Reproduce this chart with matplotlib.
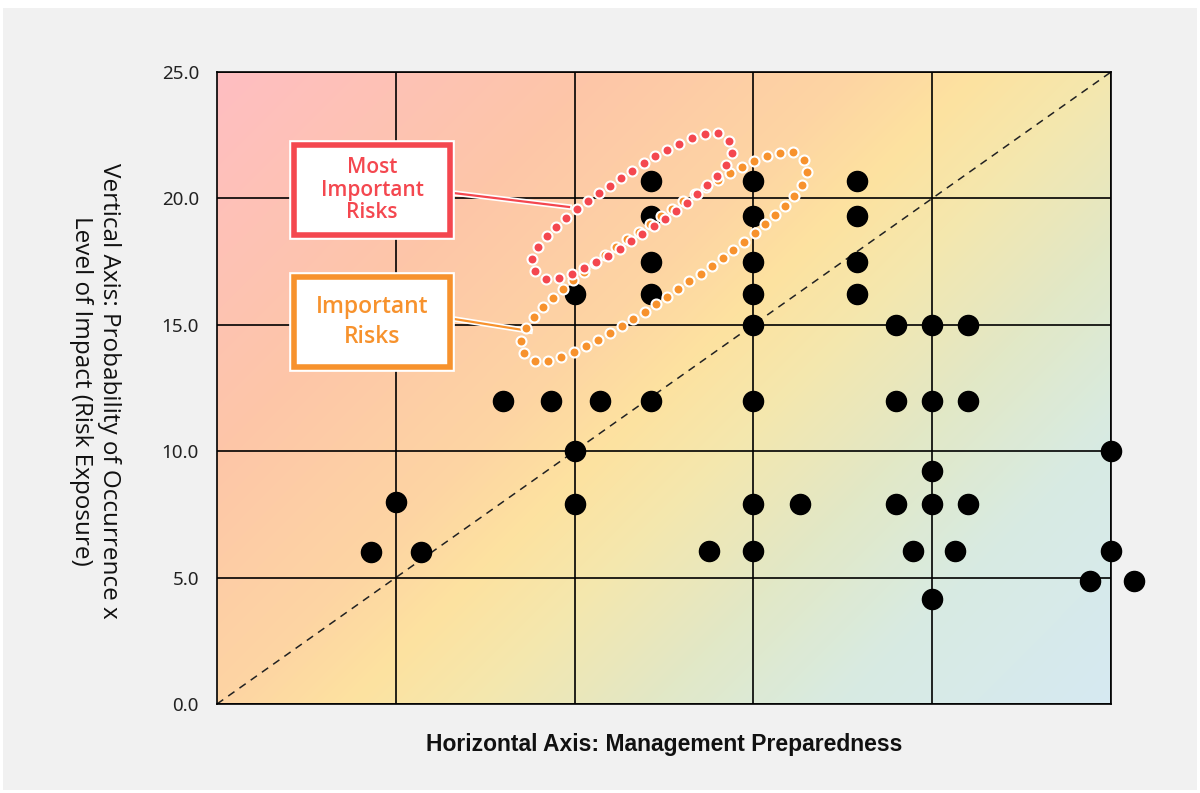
"""
Risk map: exposure vs. management preparedness
"""
import numpy as np
import matplotlib
matplotlib.use('Agg')
from matplotlib import pyplot as plt
from matplotlib.colors import LinearSegmentedColormap
from matplotlib.patches import Rectangle
import matplotlib.patheffects as pe

# Data
prep = [0.86, 1.0, 1.14, 1.6, 1.87, 2.14, 2.0, 2.0, 2.0,
        2.43, 2.43, 2.43, 2.43, 2.43, 2.75,
        3.0, 3.0, 3.0, 3.0, 3.0, 3.0, 3.0, 3.0, 3.26,
        3.58, 3.58, 3.58, 3.58,
        3.8, 4.0, 4.2, 3.8, 4.0, 4.2, 4.0, 3.8, 4.0, 4.2, 3.89, 4.13, 4.0,
        5.0, 5.0, 4.88, 5.13]
exposure = [6.0, 8.0, 6.0, 12.0, 12.0, 12.0, 16.2, 10.0, 7.9,
            20.7, 19.3, 17.5, 16.2, 12.0, 6.05,
            20.7, 19.3, 17.5, 16.2, 15.0, 12.0, 7.9, 6.05, 7.9,
            20.7, 19.3, 17.5, 16.2,
            15.0, 15.0, 15.0, 12.0, 12.0, 12.0, 9.2, 7.9, 7.9, 7.9, 6.05, 6.05, 4.15,
            10.0, 6.05, 4.87, 4.87]
y_ticks = [0, 5, 10, 15, 20, 25]

RED = '#f4474f'
ORANGE = '#f7922d'

W, H = 1200, 793
fig = plt.figure(figsize=(W / 100, H / 100), dpi=100, facecolor='white')
fig.patches.append(Rectangle((3 / W, 3 / H), 1194 / W, 782 / H, transform=fig.transFigure,
                             facecolor='#f1f1f1', edgecolor='none', zorder=-10))

ax_l, ax_b, ax_w, ax_h = 217, 793 - 704, 894, 632
ax = fig.add_axes([ax_l / W, ax_b / H, ax_w / W, ax_h / H])
sx, sy = ax_w / 5, ax_h / 25  # pixels per unit

# diagonal gradient background (pink top-left -> blue bottom-right)
cmap = LinearSegmentedColormap.from_list('risk', [
    (0.0, '#ffbec2'), (0.25, '#fdc6a8'), (0.42, '#fed5a3'), (0.5, '#fde2a0'),
    (0.58, '#f5e7ad'), (0.7, '#e2e8c6'), (0.82, '#d8ebe2'), (1.0, '#d6e9f2')])
gx, gy = np.meshgrid(np.arange(ax_w), np.arange(ax_h))
t = (gx + gy) / (ax_w + ax_h)
ax.imshow(t, cmap=cmap, extent=[0, 5, 0, 25], aspect='auto', origin='upper', zorder=0)
ax.set_xlim(0, 5)
ax.set_ylim(0, 25)

ax.grid(True, color='black', linewidth=1.2, zorder=1)
ax.set_axisbelow(False)
ax.set_xticks([1, 2, 3, 4, 5])
ax.set_xticklabels([])
ax.set_yticks(y_ticks)
ax.set_yticklabels([f'{v:.1f}' for v in y_ticks], family='Noto Sans', fontsize=13.5, color='#222222')
ax.tick_params(length=0, pad=13)
for s in ax.spines.values():
    s.set_linewidth(1.2)
    s.set_color('black')

ax.plot([0, 5], [0, 25], color='#222222', linestyle=(0, (5, 4)), linewidth=1.1, zorder=2)
ax.scatter(prep, exposure, s=210, color='black', zorder=3, clip_on=False)


def dotted_loop(cx, cy, a, b, ang, step, color):
    # superellipse in pixel space, dots spaced evenly along it
    th = np.linspace(0, 2 * np.pi, 2000)
    p = 2.6
    u = a * np.sign(np.cos(th)) * np.abs(np.cos(th)) ** (2 / p)
    v = b * np.sign(np.sin(th)) * np.abs(np.sin(th)) ** (2 / p)
    r = np.radians(ang)
    px = u * np.cos(r) - v * np.sin(r)
    py = u * np.sin(r) + v * np.cos(r)
    d = np.concatenate([[0], np.cumsum(np.hypot(np.diff(px), np.diff(py)))])
    n = int(d[-1] // step)
    s = np.linspace(0, d[-1], n, endpoint=False)
    qx = np.interp(s, d, px)
    qy = np.interp(s, d, py)
    ax.plot(cx + qx / sx, cy + qy / sy, 'o', color=color, markersize=7.2,
            markeredgecolor='white', markeredgewidth=1.5, linestyle='none',
            zorder=5, clip_on=False)


dotted_loop(2.50, 17.70, 170, 35, 34.7, 13.5, ORANGE)
dotted_loop(2.32, 19.70, 117, 29, 34.0, 13.5, RED)


def label_box(cx, cy, text, color, size, ls):
    w, h = 156 / sx, 90 / sy
    rect = Rectangle((cx - w / 2, cy - h / 2), w, h, facecolor='white', edgecolor=color,
                     linewidth=4, zorder=6, clip_on=False)
    rect.set_path_effects([pe.withStroke(linewidth=7, foreground='white')])
    ax.add_patch(rect)
    ax.text(cx, cy, text, ha='center', va='center', color=color, fontsize=size,
            family='Open Sans', fontweight='semibold', linespacing=ls, zorder=7)


# connectors
for (x0, y0, x1, y1, c) in [(1.326, 20.21, 1.969, 19.66, RED), (1.326, 15.23, 1.751, 14.75, ORANGE)]:
    ax.plot([x0, x1], [y0, y1], color=c, linewidth=1.6, zorder=4,
            path_effects=[pe.withStroke(linewidth=4, foreground='white')])

label_box(0.867, 20.33, 'Most\nImportant\nRisks', RED, 15, 1.12)
label_box(0.867, 15.11, 'Important\nRisks', ORANGE, 16.5, 1.35)

fig.text(664 / W, 1 - 744 / H, 'Horizontal Axis: Management Preparedness', ha='center', va='center',
         family='Liberation Sans', fontweight='bold', fontsize=16.5, color='#111111')
fig.text(95 / W, 1 - 391 / H, 'Vertical Axis: Probability of Occurrence x\nLevel of Impact (Risk Exposure)',
         ha='center', va='center', rotation=-90, family='Open Sans', fontsize=17.5,
         color='#111111', linespacing=1.2)

fig.savefig('out.png', dpi=100, facecolor=fig.get_facecolor())
